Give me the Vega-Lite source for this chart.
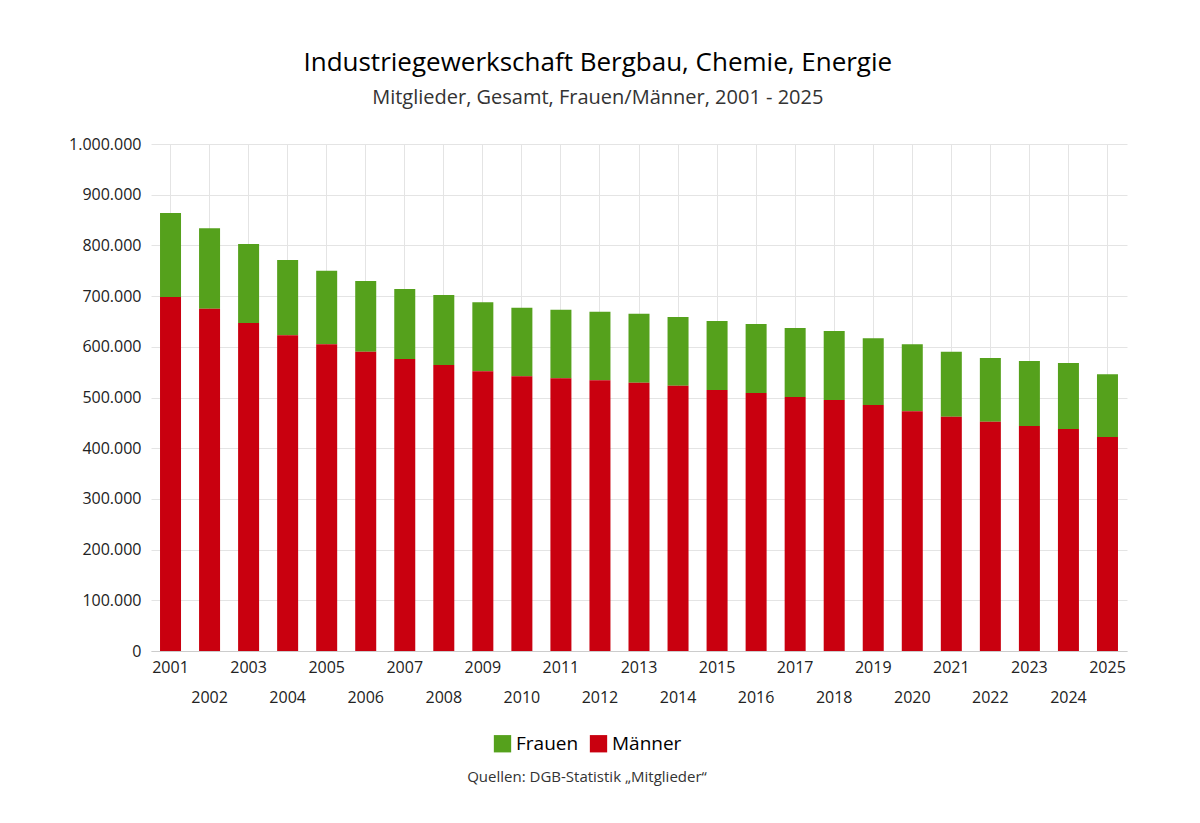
{
  "$schema": "https://vega.github.io/schema/vega-lite/v6.json",
  "width": 976,
  "height": 507,
  "padding": {"left": 68, "top": 50, "right": 60, "bottom": 20},
  "background": "white",
  "config": {"font": "Open Sans", "view": {"stroke": null}},
  "title": {
    "text": "Industriegewerkschaft Bergbau, Chemie, Energie",
    "subtitle": "Mitglieder, Gesamt, Frauen/Männer, 2001 - 2025",
    "fontSize": 26, "fontWeight": "normal", "subtitleFontSize": 20, "subtitleColor": "#333",
    "subtitlePadding": 12, "anchor": "middle", "frame": "bounds", "offset": 28
  },
  "data": {"values": [
    {"jahr": "2001", "m": 698000, "g": 864000},
    {"jahr": "2002", "m": 675000, "g": 834000},
    {"jahr": "2003", "m": 647000, "g": 803000},
    {"jahr": "2004", "m": 623000, "g": 771000},
    {"jahr": "2005", "m": 605000, "g": 750000},
    {"jahr": "2006", "m": 590000, "g": 730000},
    {"jahr": "2007", "m": 576000, "g": 714000},
    {"jahr": "2008", "m": 564000, "g": 702000},
    {"jahr": "2009", "m": 552000, "g": 688000},
    {"jahr": "2010", "m": 542000, "g": 677000},
    {"jahr": "2011", "m": 538000, "g": 673000},
    {"jahr": "2012", "m": 534000, "g": 669000},
    {"jahr": "2013", "m": 529000, "g": 665000},
    {"jahr": "2014", "m": 523000, "g": 659000},
    {"jahr": "2015", "m": 515000, "g": 651000},
    {"jahr": "2016", "m": 509000, "g": 645000},
    {"jahr": "2017", "m": 501000, "g": 637000},
    {"jahr": "2018", "m": 495000, "g": 631000},
    {"jahr": "2019", "m": 485000, "g": 617000},
    {"jahr": "2020", "m": 473000, "g": 605000},
    {"jahr": "2021", "m": 462000, "g": 590000},
    {"jahr": "2022", "m": 452000, "g": 578000},
    {"jahr": "2023", "m": 444000, "g": 572000},
    {"jahr": "2024", "m": 438000, "g": 568000},
    {"jahr": "2025", "m": 422000, "g": 546000}
  ]},
  "transform": [
    {"calculate": "datum.g - datum.m", "as": "Frauen"},
    {"calculate": "datum.m", "as": "Männer"},
    {"fold": ["Frauen", "Männer"], "as": ["geschlecht", "wert"]},
    {"calculate": "datum.geschlecht == 'Männer' ? 0 : 1", "as": "ord"}
  ],
  "mark": {"type": "bar", "width": 21},
  "encoding": {
    "x": {
      "field": "jahr", "type": "ordinal", "title": null,
      "axis": {
        "labelAngle": 0, "labelFontSize": 16, "labelColor": "#222", "grid": true, "gridColor": "#e4e4e4",
        "domainColor": "#ccc", "ticks": false, "labelPadding": 8, "labelLineHeight": 30,
        "labelBaseline": "top", "labelOverlap": false,
        "labelExpr": "toNumber(datum.value) % 2 == 0 ? ['', datum.value] : datum.value"
      }
    },
    "y": {
      "field": "wert", "type": "quantitative", "stack": "zero", "title": null,
      "scale": {"domain": [0, 1000000]},
      "axis": {
        "tickCount": 10, "labelFontSize": 16, "labelColor": "#222", "gridColor": "#e4e4e4",
        "domain": false, "ticks": false, "labelPadding": 10,
        "labelExpr": "replace(format(datum.value, ',d'), /,/g, '.')"
      }
    },
    "color": {
      "field": "geschlecht", "type": "nominal",
      "scale": {"domain": ["Frauen", "Männer"], "range": ["#55a11c", "#c9000f"]},
      "legend": {
        "orient": "none", "legendX": 316, "legendY": 590, "direction": "horizontal",
        "title": "Quellen: DGB-Statistik „Mitglieder“", "titleLimit": 600,
        "titleOrient": "bottom", "titleAnchor": "middle", "titleFontSize": 15, "titleFontWeight": "normal",
        "titleColor": "#333", "titlePadding": 16, "labelFontSize": 19, "symbolType": "square",
        "symbolSize": 300, "symbolStrokeWidth": 0, "columnPadding": 10
      }
    },
    "order": {"field": "ord"}
  }
}
